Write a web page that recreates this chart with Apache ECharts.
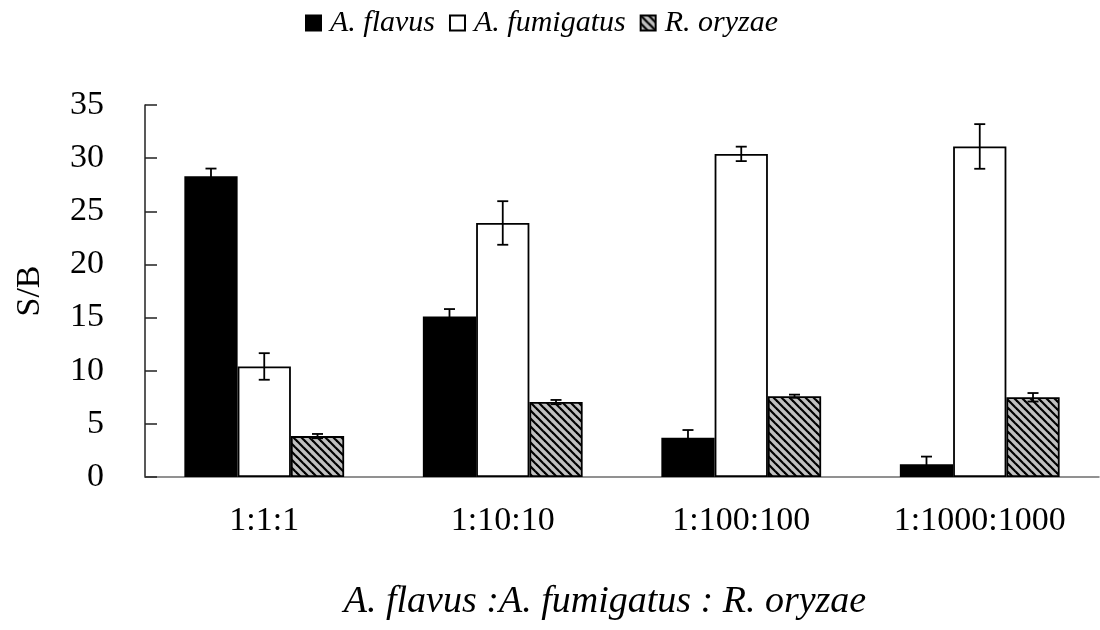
<!DOCTYPE html>
<html>
<head>
<meta charset="utf-8">
<script src="https://cdn.jsdelivr.net/npm/echarts@6/dist/echarts.min.js"></script>
<style>
html,body{margin:0;padding:0;background:#fff;}
#chart{width:1100px;height:630px;}
</style>
</head>
<body>
<div id="chart"></div>
<script>
const categories = ['1:1:1', '1:10:10', '1:100:100', '1:1000:1000'];
const seriesNames = ['A. flavus', 'A. fumigatus', 'R. oryzae'];
const flavus = [28.3, 15.1, 3.7, 1.2];
const fumigatus = [10.4, 23.9, 30.4, 31.1];
const oryzae = [3.85, 7.05, 7.6, 7.5];
const errFlavus = [0.72, 0.7, 0.72, 0.72];
const errFumigatus = [1.25, 2.05, 0.68, 2.1];
const errOryzae = [0.2, 0.2, 0.15, 0.4];
const yTicks = [0, 5, 10, 15, 20, 25, 30, 35];

const serif = '"Liberation Serif", "Times New Roman", serif';

// hatch pattern
const pc = document.createElement('canvas');
pc.width = 8; pc.height = 8;
const pctx = pc.getContext('2d');
pctx.fillStyle = '#c0c0c0';
pctx.fillRect(0, 0, 8, 8);
pctx.strokeStyle = '#000';
pctx.lineWidth = 2.2;
for (let k = -1; k <= 1; k++) {
  pctx.beginPath();
  pctx.moveTo(k * 8 - 1, -1);
  pctx.lineTo(k * 8 + 9, 9);
  pctx.stroke();
}

const values = [flavus, fumigatus, oryzae];
const errs = [errFlavus, errFumigatus, errOryzae];
const fills = ['#000000', '#ffffff', { image: pc, repeat: 'repeat' }];

const CAT_GAP = 0.33;
const barSeries = values.map((arr, i) => ({
  name: seriesNames[i],
  type: 'bar',
  data: arr,
  barGap: '0%',
  barCategoryGap: (CAT_GAP * 100) + '%',
  itemStyle: { color: fills[i], borderColor: '#000', borderWidth: 1.8 },
  emphasis: { disabled: true },
  z: 2
}));

const errSeries = values.map((arr, i) => ({
  type: 'custom',
  name: 'err' + i,
  z: 5,
  silent: true,
  data: arr.map((v, j) => [j, v, errs[i][j]]),
  encode: { x: 0, y: 1 },
  renderItem: function (params, api) {
    const ci = api.value(0), v = api.value(1), e = api.value(2);
    const band = api.size([1, 0])[0];
    const bw = band * (1 - CAT_GAP) / 3;
    const c = api.coord([ci, v]);
    const x = c[0] + (i - 1) * bw;
    const hi = api.coord([ci, v + e])[1];
    const lo = api.coord([ci, v - e])[1];
    const hw = 5.5;
    const st = { stroke: '#000', lineWidth: 1.8 };
    return {
      type: 'group',
      children: [
        { type: 'line', shape: { x1: x, y1: hi, x2: x, y2: lo }, style: st },
        { type: 'line', shape: { x1: x - hw, y1: hi, x2: x + hw, y2: hi }, style: st },
        { type: 'line', shape: { x1: x - hw, y1: lo, x2: x + hw, y2: lo }, style: st }
      ]
    };
  }
}));

const chart = echarts.init(document.getElementById('chart'), null, { renderer: 'canvas' });
chart.setOption({
  animation: false,
  backgroundColor: '#fff',
  legend: {
    data: seriesNames.map(n => ({ name: n, icon: 'rect' })),
    top: 3,
    left: 300,
    itemWidth: 15,
    itemHeight: 15,
    itemGap: 14,
    selectedMode: false,
    textStyle: { fontFamily: serif, fontStyle: 'italic', fontSize: 30, color: '#000', padding: [0, 0, 0, 4] }
  },
  grid: { left: 145, right: 1, top: 105, bottom: 153 },
  xAxis: {
    type: 'category',
    data: categories,
    name: 'A. flavus :A. fumigatus : R. oryzae',
    nameLocation: 'middle',
    nameGap: 106,
    nameTextStyle: { fontFamily: serif, fontStyle: 'italic', fontSize: 38, color: '#000', padding: [0, 34, 0, 0] },
    axisLine: { lineStyle: { color: '#6e6e6e', width: 1.5 } },
    axisTick: { inside: true, length: 10, interval: 0, lineStyle: { color: '#6e6e6e', width: 1.5 } },
    axisLabel: { fontFamily: serif, fontSize: 34, color: '#000', margin: 27, interval: 0 }
  },
  yAxis: {
    type: 'value',
    min: 0,
    max: 35,
    interval: 5,
    name: 'S/B',
    nameLocation: 'middle',
    nameGap: 98,
    nameRotate: 90,
    nameTextStyle: { fontFamily: serif, fontSize: 34, color: '#000' },
    splitLine: { show: false },
    axisLine: { show: true, lineStyle: { color: '#222', width: 1.5 } },
    axisTick: { show: true, inside: true, length: 12, lineStyle: { color: '#222', width: 1.5 } },
    axisLabel: {
      fontFamily: serif, fontSize: 34, color: '#000', margin: 41,
      formatter: function (v) { return yTicks.indexOf(v) >= 0 ? String(v) : ''; }
    }
  },
  series: barSeries.concat(errSeries)
});
</script>
</body>
</html>
